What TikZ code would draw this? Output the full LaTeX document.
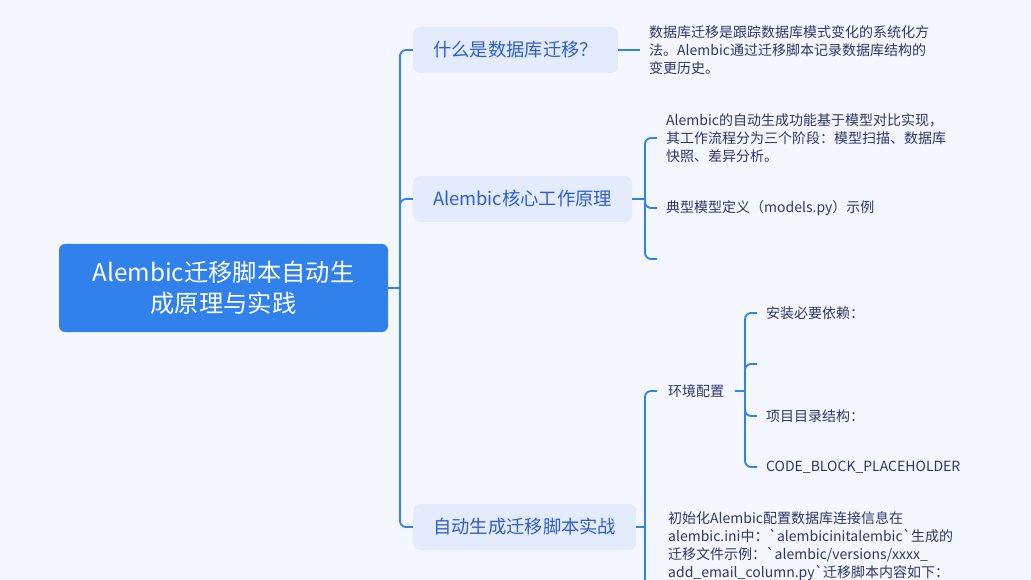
\documentclass[tikz,border=0pt]{standalone}
\usepackage{fontspec}
\newfontfamily\cjk{Noto Sans CJK SC}
\usetikzlibrary{positioning}
\definecolor{Fondo}{HTML}{F5F7FE}
\definecolor{Raiz}{HTML}{3081EB}
\definecolor{Rama}{HTML}{E3EBFC}
\definecolor{TextoRama}{HTML}{2E5FCF}
\definecolor{TextoHoja}{HTML}{2E3868}
\definecolor{Linea}{HTML}{3182EC}

\begin{document}
\begin{tikzpicture}[x=1pt,y=-1pt,
    raiz/.style={fill=Raiz,rounded corners=6,minimum width=329,minimum height=88,
      align=center,text=white,font=\cjk\fontsize{24.3}{31}\selectfont},
    rama/.style={fill=Rama,rounded corners=7,minimum height=46,inner xsep=20,
      text=TextoRama,font=\cjk\fontsize{18.3}{21}\selectfont},
    hoja/.style={anchor=west,inner xsep=9,inner ysep=0,align=left,
      text=TextoHoja,font=\cjk\fontsize{14}{18}\selectfont},
    enlace/.style={draw=Linea,line width=1.8,rounded corners=6}]
        \fill[Fondo] (0,0) rectangle (1031,580);
        \clip (0,0) rectangle (1031,580);
        % raiz y ramas
        \node[raiz] (raiz) at (223.5,288) {Alembic迁移脚本自动生\\成原理与实践};
        \node[rama,anchor=west] (que) at (413,50) {什么是数据库迁移？};
        \node[rama,anchor=west] (nucleo) at (413,199) {Alembic核心工作原理};
        \node[rama,anchor=west] (practica) at (413,527) {自动生成迁移脚本实战};
        \coordinate (tronco) at (400,288);
        \draw[enlace] (raiz.east) -- (tronco);
        \foreach \r in {que,nucleo,practica} {\draw[enlace] (tronco) |- (\r.west);}
        % hojas de la primera rama
        \node[hoja] (defi) at (640,50) {数据库迁移是跟踪数据库模式变化的系统化方\\法。Alembic通过迁移脚本记录数据库结构的\\变更历史。};
        \draw[enlace] (que.east) -- (defi.west);
        % hojas de la segunda rama
        \node[hoja] (flujo) at (657,138) {Alembic的自动生成功能基于模型对比实现，\\其工作流程分为三个阶段：模型扫描、数据库\\快照、差异分析。};
        \node[hoja] (modelo) at (657,208) {典型模型定义（models.py）示例};
        \coordinate (vacio2) at (657,259);
        \coordinate (llave2) at (645,199);
        \draw[enlace] (nucleo.east) -- (llave2);
        \foreach \h in {flujo.west,modelo.west,vacio2} {\draw[enlace] (llave2) |- (\h);}
        % hojas de la tercera rama
        \node[hoja,inner xsep=11] (entorno) at (657,391) {环境配置};
        \node[hoja,anchor=north west,inner xsep=11] (inicio) at (657,511) {初始化Alembic配置数据库连接信息在\\alembic.ini中：`alembicinitalembic`生成的\\迁移文件示例：`alembic/versions/xxxx\_\\add\_email\_column.py`迁移脚本内容如下：};
        \coordinate (llave3) at (645,527);
        \coordinate (abajo3) at (645,600);
        \draw[enlace] (practica.east) -- (llave3);
        \draw[enlace] (llave3) |- (entorno.west);
        \draw[enlace] (llave3) -- (abajo3);
        % hojas del entorno
        \node[hoja] (deps) at (757,313) {安装必要依赖：};
        \coordinate (vacio3) at (757,364);
        \node[hoja] (dirs) at (757,416) {项目目录结构：};
        \node[hoja] (codigo) at (757,467) {CODE\_BLOCK\_PLACEHOLDER};
        \coordinate (llave4) at (745,391);
        \draw[enlace] (entorno.east) -- (llave4);
        \foreach \h in {deps.west,vacio3,dirs.west,codigo.west} {\draw[enlace] (llave4) |- (\h);}
      \end{tikzpicture}
\end{document}
